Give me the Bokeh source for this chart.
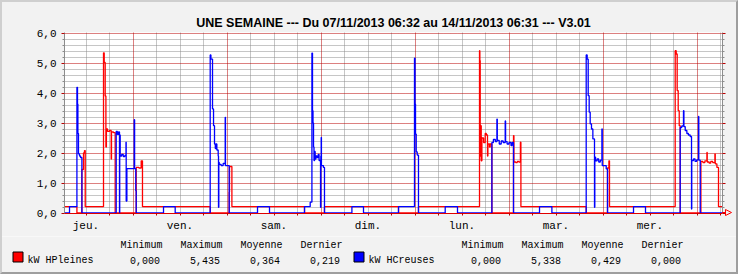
import math
from bokeh.plotting import figure
from bokeh.layouts import column
from bokeh.models import (FixedTicker, LinearAxis, Grid, ColumnDataSource, InlineStyleSheet)
from bokeh.core.properties import value
from bokeh.embed import file_html
from bokeh.resources import INLINE

# ---------------- data (hours since 07/11/2013 06:32) ----------------
HP_T = [0, 3.17, 4.44, 4.85, 5.10, 5.29, 9.96, 10.14, 10.39, 10.57, 10.70, 11.00, 11.50,
        11.92, 12.00, 12.50, 12.94, 18.31, 19.00, 19.58, 19.91, 37.20, 42.05, 42.13, 42.74,
        61.28, 66.38, 85.28, 90.38, 105.96, 106.05, 106.14, 106.25, 106.40, 106.57, 107.00,
        107.41, 107.70, 108.00, 108.10, 108.50, 108.69, 109.12, 114.64, 114.75, 115.20,
        115.60, 116.00, 116.40, 116.53, 133.20, 138.64, 139.00, 139.15, 155.92, 156.18,
        156.43, 156.69, 156.95, 157.20, 162.49, 163.00, 163.50, 164.02, 164.10, 164.60,
        165.00, 165.50, 166.06, 166.15, 166.57, 166.98]
HP_V = [0.21, 0.0, 1.45, 2.00, 2.08, 0.21, 5.34, 5.02, 3.90, 2.20, 2.80, 2.72, 2.75,
        1.80, 2.70, 2.68, 0.0, 1.52, 1.50, 1.74, 0.21, 0.0, 0.70, 1.55, 0.21,
        0.0, 0.21, 0.0, 0.21, 5.41, 5.08, 1.90, 2.91, 1.74, 2.50, 2.35,
        2.65, 2.60, 1.90, 2.30, 2.20, 2.30, 0.0, 2.58, 1.70, 1.68,
        1.72, 1.70, 2.36, 0.21, 0.0, 1.50, 1.74, 0.21, 5.41, 5.30,
        4.08, 3.41, 2.91, 0.0, 1.72, 1.68, 1.74, 2.02, 1.70, 1.66,
        1.72, 1.68, 1.97, 1.64, 1.52, 0.21]

HC_T = [0, 1.28, 3.17, 3.32, 3.42, 3.57, 3.83, 4.09, 4.44, 13.20, 13.50, 13.80, 14.04,
        14.10, 14.22, 14.60, 15.00, 15.40, 15.70, 15.75, 15.93, 17.80, 17.90, 18.20, 18.31,
        25.28, 28.26, 37.20, 37.38, 37.79, 38.05, 38.30, 38.50, 38.70, 38.90, 39.24, 39.32,
        39.40, 39.50, 40.00, 40.50, 41.03, 41.10, 42.05, 49.28, 52.34, 61.28, 62.73, 63.17,
        63.32, 63.45, 63.58, 63.70, 63.85, 64.00, 64.20, 64.50, 64.78, 65.00, 65.37, 65.45,
        65.54, 65.60, 66.10, 66.38, 73.38, 76.34, 85.28, 89.36, 89.50, 89.62, 89.80, 90.05,
        90.38, 97.20, 100.34, 109.12, 109.50, 110.00, 110.40, 110.50, 111.00, 111.50,
        112.00, 112.52, 112.62, 113.00, 113.50, 114.00, 114.30, 114.64, 121.28, 124.44,
        133.20, 133.45, 133.71, 133.96, 134.22, 134.55, 134.90, 135.32, 135.40, 135.60,
        136.00, 136.40, 136.80, 137.21, 137.30, 138.31, 138.64, 145.28, 148.34, 157.20,
        157.60, 158.04, 158.15, 158.48, 158.90, 159.30, 159.75, 160.09, 160.15, 160.60,
        161.00, 161.40, 161.88, 161.95, 162.31]
HC_V = [0.0, 0.21, 4.19, 3.63, 2.65, 1.97, 1.90, 1.85, 0.0, 2.72, 2.62, 2.70, 0.0,
        2.60, 1.90, 1.95, 1.88, 1.92, 2.36, 0.40, 1.48, 3.11, 1.48, 0.74, 0.0,
        0.21, 0.0, 5.27, 5.13, 3.47, 2.91, 2.30, 2.15, 2.30, 2.10, 1.90, 0.19,
        1.69, 1.62, 1.58, 1.65, 3.19, 1.58, 0.0, 0.21, 0.0, 0.21, 0.36, 5.33,
        3.41, 3.00, 2.20, 1.75, 2.05, 1.80, 1.90, 1.85, 1.95, 1.75, 0.19, 1.90,
        2.52, 1.58, 1.52, 0.0, 0.21, 0.0, 0.21, 5.16, 3.63, 2.63, 2.04, 1.93,
        0.0, 0.21, 0.0, 2.35, 2.45, 2.38, 3.13, 2.42, 2.30, 2.40,
        2.35, 3.07, 2.38, 2.30, 2.35, 2.25, 2.35, 0.0, 0.21, 0.0,
        5.27, 5.13, 3.91, 3.36, 2.97, 2.80, 2.47, 0.19, 1.86, 1.74,
        1.80, 1.70, 1.76, 2.80, 1.58, 1.47, 0.0, 0.21, 0.0, 2.85,
        2.90, 3.41, 2.88, 2.75, 2.65, 2.60, 2.55, 0.13, 1.75, 1.80,
        1.72, 1.77, 3.22, 1.76, 0.0]

SPAN_H = 168.0
FIRST_NOON = 5.467          # 07/11 12:00
DAY_LABELS = ["jeu.", "ven.", "sam.", "dim.", "lun.", "mar.", "mer."]
Y_TICKS = [0, 1, 2, 3, 4, 5, 6]
Y_TICK_LABELS = ["0,0", "1,0", "2,0", "3,0", "4,0", "5,0", "6,0"]

TITLE = "UNE SEMAINE --- Du 07/11/2013 06:32 au 14/11/2013 06:31 --- V3.01"
LEG_HEAD = ["Minimum", "Maximum", "Moyenne", "Dernier"]
SERIES = ["kW HPleines", "kW HCreuses"]
SERIES_COLORS = ["#ff0000", "#0000ff"]
STATS_HP = ["0,000", "5,435", "0,364", "0,219"]
STATS_HC = ["0,000", "5,338", "0,429", "0,000"]

# ---------------- styling ----------------
BACK = "#f2f2f2"
MGRID = "#b80000"
GRID = "#8c8c8c"
AXIS = "#8c8c8c"
XAXIS = "#e00000"
MONO = "Liberation Mono"
W = 738
H_MAIN, H_LEG = 236, 38
FL, FR = 64, 722                      # frame left / right (px)
HALF = 0.5 / 30                       # half a pixel in kW, keeps grid lines crisp

def snap(t):
    """move a time to the centre of its pixel column so 1px lines stay crisp"""
    px = FL + t * (FR - FL) / SPAN_H
    return (math.floor(px) + 0.5 - FL) * SPAN_H / (FR - FL)

noons = [FIRST_NOON + 24 * k for k in range(len(DAY_LABELS))]
midnights = [snap(FIRST_NOON + 12 + 24 * k) for k in range(7)]
six_h = [snap(t) for t in [FIRST_NOON + 6 * j for j in range(-1, 30)]
         if 0 < t < SPAN_H and (t - FIRST_NOON - 12) % 24 != 0]
y_all = [i / 5 for i in range(31)]
minor_y = [t for t in y_all if t not in Y_TICKS]

p = figure(width=W, height=H_MAIN, x_range=(0, SPAN_H), y_range=(-HALF, 6 + HALF),
           toolbar_location=None, output_backend="svg",
           min_border_left=FL, min_border_right=W - FR, min_border_top=32,
           min_border_bottom=23, x_axis_type=None, y_axis_type=None, title=TITLE)
p.frame_align = False
p.background_fill_color = "white"
p.border_fill_color = BACK
p.outline_line_color = None
p.title.align = "center"
p.title.offset = -24
p.title.standoff = 6
p.title.text_font = "Liberation Sans"
p.title.text_font_style = "bold"
p.title.text_font_size = "12.5px"
p.title.text_color = "black"

# grids: minor (grey) first, major (dark red) on top
for dim, ticks, col in [(0, six_h, GRID), (1, minor_y, GRID),
                        (0, midnights, MGRID), (1, Y_TICKS, MGRID)]:
    g = Grid(dimension=dim, ticker=FixedTicker(ticks=ticks))
    g.grid_line_color = col
    g.grid_line_dash = "1 1"
    g.grid_line_width = 1
    p.add_layout(g, "center")

# y axis left
ya = LinearAxis(ticker=FixedTicker(ticks=Y_TICKS, minor_ticks=minor_y))
ya.major_label_overrides = {t: s for t, s in zip(Y_TICKS, Y_TICK_LABELS)}
ya.axis_line_color = AXIS
ya.major_tick_line_color = MGRID
ya.major_tick_out = 3
ya.major_tick_in = 0
ya.minor_tick_line_color = AXIS
ya.minor_tick_out = 2
ya.minor_tick_in = 0
ya.major_label_standoff = 5
ya.major_label_text_font = MONO
ya.major_label_text_font_size = "11px"
ya.major_label_text_color = "black"
p.add_layout(ya, "left")

# y axis right (ticks only)
yr = LinearAxis(ticker=FixedTicker(ticks=Y_TICKS, minor_ticks=minor_y))
yr.axis_line_color = AXIS
yr.major_tick_line_color = MGRID
yr.major_tick_out = 3
yr.major_tick_in = 0
yr.minor_tick_line_color = AXIS
yr.minor_tick_out = 2
yr.minor_tick_in = 0
yr.major_label_text_font_size = "0px"
p.add_layout(yr, "right")

# x axis: day names at noon, small ticks at midnight and every 6 hours
xa = LinearAxis(ticker=FixedTicker(ticks=noons, minor_ticks=midnights + six_h))
xa.major_label_overrides = {t: s for t, s in zip(noons, DAY_LABELS)}
xa.axis_line_color = XAXIS
xa.major_tick_line_color = None
xa.major_tick_out = 0
xa.major_tick_in = 0
xa.minor_tick_line_color = MGRID
xa.minor_tick_out = 2
xa.minor_tick_in = 0
xa.major_label_standoff = 4
xa.major_label_text_font = MONO
xa.major_label_text_font_size = "11px"
xa.major_label_text_color = "black"
p.add_layout(xa, "below")

# series
p.step(HP_T + [SPAN_H], HP_V + [HP_V[-1]], mode="after", line_color=SERIES_COLORS[0], line_width=1.3)
p.step(HC_T + [SPAN_H], HC_V + [HC_V[-1]], mode="after", line_color=SERIES_COLORS[1], line_width=1.3)

# ---------------- legend strip (coordinates = pixels of the whole picture) ----------------
lg = figure(width=W, height=H_LEG, x_range=(0, W), y_range=(H_MAIN + H_LEG, H_MAIN),
            toolbar_location=None, output_backend="svg", min_border=0,
            min_border_left=0, min_border_right=0, min_border_top=0, min_border_bottom=0,
            x_axis_type=None, y_axis_type=None)
lg.frame_align = False
lg.background_fill_color = BACK
lg.border_fill_color = BACK
lg.outline_line_color = None
lg.xgrid.visible = False
lg.ygrid.visible = False

sq_left = [12.5, 353.5]
lg.quad(left=sq_left, right=[x + 10 for x in sq_left], top=[251.5, 251.5], bottom=[261.5, 261.5],
        fill_color=SERIES_COLORS, line_color="black", line_width=1)

txt_x, txt_y, txt_s, txt_a = [], [], [], []
for k, (name, stats, x0, hx) in enumerate([(SERIES[0], STATS_HP, 12, 120),
                                           (SERIES[1], STATS_HC, 353, 461)]):
    txt_x.append(x0 + 15); txt_y.append(259.5); txt_s.append(name); txt_a.append("left")
    for i, (h, v) in enumerate(zip(LEG_HEAD, stats)):
        txt_x += [hx + 60 * i + 21, hx + 60 * i + 24.5]
        txt_y += [245, 259.5]
        txt_s += [h, v]
        txt_a += ["center", "center"]
lg.text(x="x", y="y", text="text", text_align="align",
        source=ColumnDataSource(dict(x=txt_x, y=txt_y, text=txt_s, align=txt_a)),
        text_font=value(MONO), text_font_size=value("10px"), text_color="black",
        text_baseline="middle")

# 3D frame around the picture and the arrow closing the time axis (decoration only)
arrow_svg = ("data:image/svg+xml;utf8,<svg xmlns='http://www.w3.org/2000/svg' width='11' height='11'>"
             "<path d='M0 5.5 H4' stroke='%23ff0000' stroke-width='1'/>"
             "<path d='M3.5 2.5 V8.5 L9.5 5.5 Z' stroke='%23ff0000' stroke-width='1' fill='none'/></svg>")
layout = column(p, lg, spacing=0)
layout.stylesheets = [InlineStyleSheet(css=(
    ":host{position:relative;}"
    ":host::after{content:'';position:absolute;left:0;top:0;width:738px;height:274px;"
    "box-sizing:border-box;border-top:2px solid #cfcfcf;border-left:2px solid #cfcfcf;"
    "border-bottom:2px solid #9e9e9e;border-right:2px solid #9e9e9e;"
    "pointer-events:none;z-index:10;}"
    ":host::before{content:'';position:absolute;left:722px;top:207px;width:11px;height:11px;"
    "background:url(\"" + arrow_svg + "\") no-repeat;pointer-events:none;z-index:11;}"))]

open("out.html", "w").write(file_html(layout, INLINE))
